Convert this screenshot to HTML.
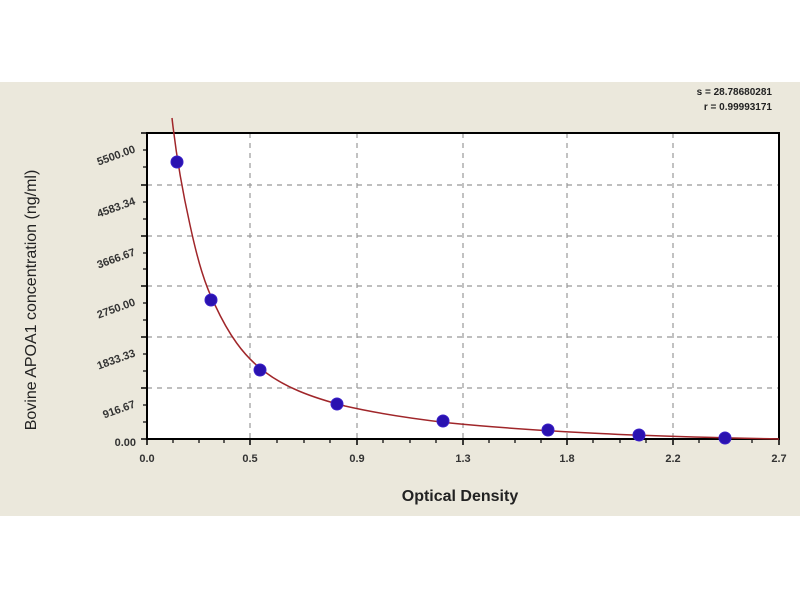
<!DOCTYPE html>
<html><head><style>
body{margin:0;background:#fff;}
svg text{font-family:"Liberation Sans",sans-serif;}
</style></head><body>
<svg width="800" height="600" xmlns="http://www.w3.org/2000/svg">
<rect x="0" y="0" width="800" height="600" fill="#fff"/>
<rect x="0" y="82" width="800" height="434" fill="#ebe8dc"/>
<rect x="147" y="133" width="632" height="306" fill="#fff"/>
<g stroke="#999" stroke-width="1.2" stroke-dasharray="5,5">
<line x1="147" y1="185" x2="779" y2="185"/>
<line x1="147" y1="236" x2="779" y2="236"/>
<line x1="147" y1="286" x2="779" y2="286"/>
<line x1="147" y1="337" x2="779" y2="337"/>
<line x1="147" y1="388" x2="779" y2="388"/>
<line x1="250" y1="133" x2="250" y2="439"/>
<line x1="357" y1="133" x2="357" y2="439"/>
<line x1="463" y1="133" x2="463" y2="439"/>
<line x1="567" y1="133" x2="567" y2="439"/>
<line x1="673" y1="133" x2="673" y2="439"/>
</g>
<rect x="147" y="133" width="632" height="306" fill="none" stroke="#000" stroke-width="2"/>
<g stroke="#000" stroke-width="1.5">
<line x1="141" y1="133" x2="147" y2="133"/><line x1="141" y1="185" x2="147" y2="185"/><line x1="141" y1="236" x2="147" y2="236"/><line x1="141" y1="286" x2="147" y2="286"/><line x1="141" y1="337" x2="147" y2="337"/><line x1="141" y1="388" x2="147" y2="388"/><line x1="141" y1="439" x2="147" y2="439"/>
<line x1="147" y1="439" x2="147" y2="445"/><line x1="250" y1="439" x2="250" y2="445"/><line x1="357" y1="439" x2="357" y2="445"/><line x1="463" y1="439" x2="463" y2="445"/><line x1="567" y1="439" x2="567" y2="445"/><line x1="673" y1="439" x2="673" y2="445"/><line x1="779" y1="439" x2="779" y2="445"/>
</g>
<g stroke="#000" stroke-width="1.2">
<line x1="143" y1="150" x2="147" y2="150"/><line x1="143" y1="167" x2="147" y2="167"/><line x1="143" y1="202" x2="147" y2="202"/><line x1="143" y1="219" x2="147" y2="219"/><line x1="143" y1="253" x2="147" y2="253"/><line x1="143" y1="269" x2="147" y2="269"/><line x1="143" y1="303" x2="147" y2="303"/><line x1="143" y1="320" x2="147" y2="320"/><line x1="143" y1="354" x2="147" y2="354"/><line x1="143" y1="371" x2="147" y2="371"/><line x1="143" y1="405" x2="147" y2="405"/><line x1="143" y1="422" x2="147" y2="422"/>
<line x1="173" y1="439" x2="173" y2="443"/><line x1="199" y1="439" x2="199" y2="443"/><line x1="224" y1="439" x2="224" y2="443"/><line x1="277" y1="439" x2="277" y2="443"/><line x1="304" y1="439" x2="304" y2="443"/><line x1="330" y1="439" x2="330" y2="443"/><line x1="383" y1="439" x2="383" y2="443"/><line x1="410" y1="439" x2="410" y2="443"/><line x1="436" y1="439" x2="436" y2="443"/><line x1="489" y1="439" x2="489" y2="443"/><line x1="515" y1="439" x2="515" y2="443"/><line x1="541" y1="439" x2="541" y2="443"/><line x1="593" y1="439" x2="593" y2="443"/><line x1="620" y1="439" x2="620" y2="443"/><line x1="646" y1="439" x2="646" y2="443"/><line x1="699" y1="439" x2="699" y2="443"/><line x1="726" y1="439" x2="726" y2="443"/><line x1="752" y1="439" x2="752" y2="443"/>
</g>
<path d="M172,118 C175,145 180,180 190,225 C198,262 205,285 215,305 C228,333 243,356 265,372 C285,387 310,397 345,406 C380,414 415,419 450,423 C500,428 550,431 600,433.5 C650,436 700,437.5 779,439" fill="none" stroke="#a0262a" stroke-width="1.5"/>
<g fill="#2a12b0" stroke="#3a20c8">
<circle cx="177" cy="162" r="6"/><circle cx="211" cy="300" r="6"/><circle cx="260" cy="370" r="6"/><circle cx="337" cy="404" r="6"/><circle cx="443" cy="421" r="6"/><circle cx="548" cy="430" r="6"/><circle cx="639" cy="435" r="6"/><circle cx="725" cy="438" r="6"/>
</g>
<g font-size="11" font-weight="bold" fill="#333" text-anchor="end">
<text x="136" y="152" transform="rotate(-20 136 152)">5500.00</text>
<text x="136" y="204" transform="rotate(-20 136 204)">4583.34</text>
<text x="136" y="255" transform="rotate(-20 136 255)">3666.67</text>
<text x="136" y="305" transform="rotate(-20 136 305)">2750.00</text>
<text x="136" y="356" transform="rotate(-20 136 356)">1833.33</text>
<text x="136" y="407" transform="rotate(-20 136 407)">916.67</text>
<text x="136" y="446">0.00</text>
</g>
<g font-size="11" font-weight="bold" fill="#333" text-anchor="middle">
<text x="147" y="462">0.0</text><text x="250" y="462">0.5</text><text x="357" y="462">0.9</text><text x="463" y="462">1.3</text><text x="567" y="462">1.8</text><text x="673" y="462">2.2</text><text x="779" y="462">2.7</text>
</g>
<text x="460" y="501" font-size="16" font-weight="bold" fill="#222" text-anchor="middle">Optical Density</text>
<text transform="translate(36,300) rotate(-90)" font-size="16" fill="#222" text-anchor="middle">Bovine APOA1 concentration (ng/ml)</text>
<g font-size="10" font-weight="bold" fill="#222" text-anchor="end">
<text x="772" y="95">s = 28.78680281</text>
<text x="772" y="110">r = 0.99993171</text>
</g>
</svg>
</body></html>
